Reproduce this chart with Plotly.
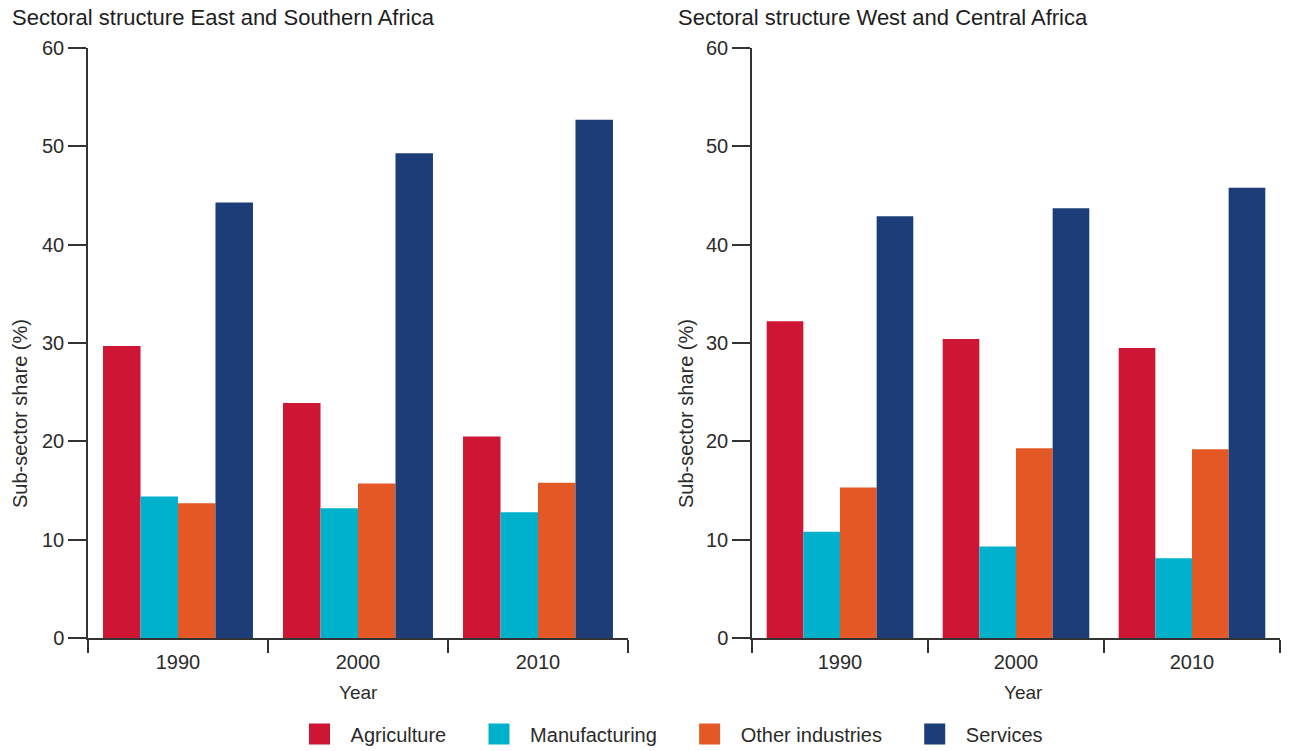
import plotly.graph_objects as go

years = ["1990", "2000", "2010"]
sectors = ["Agriculture", "Manufacturing", "Other industries", "Services"]
colors = ["#CE1533", "#00B1CC", "#E45826", "#1C3D77"]

east_agriculture = [29.7, 23.9, 20.5]
east_manufacturing = [14.4, 13.2, 12.8]
east_other = [13.7, 15.7, 15.8]
east_services = [44.3, 49.3, 52.7]

west_agriculture = [32.2, 30.4, 29.5]
west_manufacturing = [10.8, 9.3, 8.1]
west_other = [15.3, 19.3, 19.2]
west_services = [42.9, 43.7, 45.8]

east = [east_agriculture, east_manufacturing, east_other, east_services]
west = [west_agriculture, west_manufacturing, west_other, west_services]

titles = ["Sectoral structure East and Southern Africa", "Sectoral structure West and Central Africa"]
y_title = "Sub-sector share (%)"
x_title = "Year"

FONT = "Liberation Sans, Arial, sans-serif"
TXT = "#2b2b2b"
AX = "#333333"
NB = "\u00a0"

W, H = 1301, 751
ml, mr, mt, mb = 88, 21, 48, 113
pw = W - ml - mr
ph = H - mt - mb

fig = go.Figure()
for data, xa, ya in [(east, "x", "y"), (west, "x2", "y2")]:
    for name, vals, col in zip(sectors, data, colors):
        fig.add_trace(go.Bar(x=years, y=vals, name=name, marker=dict(color=col, line=dict(width=0)),
                             xaxis=xa, yaxis=ya, showlegend=False))

for i, (name, col) in enumerate(zip(sectors, colors)):
    label = NB + NB + name + (NB * 5 if i < len(sectors) - 1 else "")
    fig.add_trace(go.Scatter(x=[None], y=[None], mode="markers", name=label,
                             marker=dict(symbol="square", size=16, color=col, line=dict(width=7, color=col)),
                             xaxis="x", yaxis="y", showlegend=True))

def px_x(p):
    return (p - ml) / pw

def px_y(p):
    return (H - mb - p) / ph

left_dom = [0, px_x(628)]
right_dom = [px_x(752), 1]

common_x = dict(type="category", categoryorder="array", categoryarray=years, range=[-0.5, 2.5],
                showline=True, linecolor=AX, linewidth=1.5, ticks="outside", tickson="boundaries",
                ticklen=13, tickwidth=1.5, tickcolor=AX, showgrid=False, zeroline=False,
                ticklabelstandoff=5,
                tickfont=dict(family=FONT, size=20, color=TXT), fixedrange=True)
common_y = dict(range=[0, 60], dtick=10, showline=True, linecolor=AX, linewidth=1.5, ticks="outside",
                ticklen=18, tickwidth=1.5, tickcolor=AX, showgrid=False, zeroline=False,
                ticklabelstandoff=0,
                tickfont=dict(family=FONT, size=20, color=TXT), fixedrange=True)

fig.update_layout(
    width=W, height=H,
    margin=dict(l=ml, r=mr, t=mt, b=mb),
    paper_bgcolor="white", plot_bgcolor="white",
    barmode="group", bargap=0.167, bargroupgap=0,
    xaxis=dict(domain=left_dom, anchor="y", **common_x),
    yaxis=dict(domain=[0, 1], anchor="x", **common_y),
    xaxis2=dict(domain=right_dom, anchor="y2", **common_x),
    yaxis2=dict(domain=[0, 1], anchor="x2", **common_y),
    legend=dict(orientation="h", xref="container", yref="container",
                x=674 / W, xanchor="center", y=(H - 734) / H, yanchor="middle",
                font=dict(family=FONT, size=20, color=TXT), bgcolor="rgba(0,0,0,0)",
                borderwidth=0),
    font=dict(family=FONT, color=TXT),
)

annotations = [
    dict(text=titles[0], x=px_x(10), y=px_y(18), xref="paper", yref="paper", xanchor="left", yanchor="middle",
         showarrow=False, font=dict(family=FONT, size=22, color="#1e1e1e")),
    dict(text=titles[1], x=px_x(676), y=px_y(18), xref="paper", yref="paper", xanchor="left", yanchor="middle",
         showarrow=False, font=dict(family=FONT, size=22, color="#1e1e1e")),
    dict(text=y_title, x=px_x(20), y=px_y(414), xref="paper", yref="paper", xanchor="center", yanchor="middle",
         textangle=-90, showarrow=False, font=dict(family=FONT, size=20, color=TXT)),
    dict(text=y_title, x=px_x(686), y=px_y(414), xref="paper", yref="paper", xanchor="center", yanchor="middle",
         textangle=-90, showarrow=False, font=dict(family=FONT, size=20, color=TXT)),
    dict(text=x_title, x=px_x(358), y=px_y(692), xref="paper", yref="paper", xanchor="center", yanchor="middle",
         showarrow=False, font=dict(family=FONT, size=19, color=TXT)),
    dict(text=x_title, x=px_x(1023), y=px_y(692), xref="paper", yref="paper", xanchor="center", yanchor="middle",
         showarrow=False, font=dict(family=FONT, size=19, color=TXT)),
]
fig.update_layout(annotations=annotations)

fig.write_html("out.html", config=dict(displayModeBar=False),
               post_script="document.body.style.margin='0';document.body.style.overflow='hidden';")
